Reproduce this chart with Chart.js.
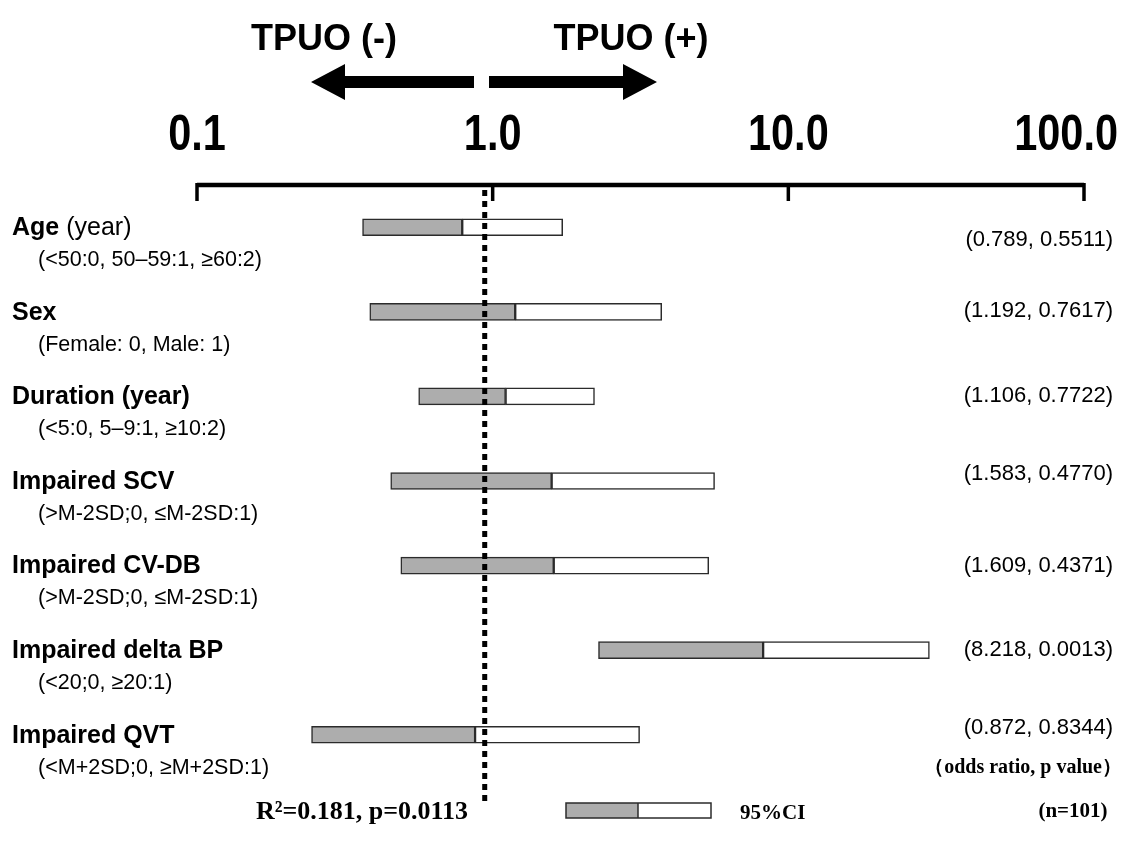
<!DOCTYPE html>
<html lang="en">
<head>
  <meta charset="UTF-8">
  <title>TPUO odds ratios</title>
  <script src="https://cdn.jsdelivr.net/npm/chart.js"></script>
  <style>
    body { margin: 0; background: #fff; }
  </style>
</head>
<body>
<canvas id="chart" width="1133" height="847"></canvas>

<script>
// data
const factorNames = ['Age', 'Sex', 'Duration (year)', 'Impaired SCV', 'Impaired CV-DB', 'Impaired delta BP', 'Impaired QVT'];
const factorUnits = [' (year)', '', '', '', '', '', ''];
const codings = [
  '(<50:0, 50\u201359:1, \u226560:2)',
  '(Female: 0, Male: 1)',
  '(<5:0, 5\u20139:1, \u226510:2)',
  '(>M-2SD;0, \u2264M-2SD:1)',
  '(>M-2SD;0, \u2264M-2SD:1)',
  '(<20;0, \u226520:1)',
  '(<M+2SD;0, \u2265M+2SD:1)'
];
const oddsRatios = [0.789, 1.192, 1.106, 1.583, 1.609, 8.218, 0.872];
const pValues = [0.5511, 0.7617, 0.7722, 0.4770, 0.4371, 0.0013, 0.8344];
const ciLow = [0.363, 0.384, 0.562, 0.452, 0.489, 2.28, 0.244];
const ciHigh = [1.725, 3.73, 2.21, 5.63, 5.38, 30.0, 3.14];
const tickValues = [0.1, 1, 10, 100];
const tickLabels = ['0.1', '1.0', '10.0', '100.0'];
const refLine = 0.94; // dotted line sits a bit left of 1.0 in the original

// small vertical nudges for the right-hand value column
const valueNudge = [13, -1, 0, -7, 0, 0, -7];

const GRAY = '#adadad';
const EDGE = '#2b2b2b';
const SANS = "'Liberation Sans', Arial, Helvetica, sans-serif";
const SERIF = "'Liberation Serif', 'Times New Roman', serif";

function arrow(ctx, x0, x1, y, dir) {
  // x0 = shaft start, x1 = tip
  const headLen = 34, headHalf = 18, shaftHalf = 6;
  const hb = x1 - dir * headLen;
  ctx.beginPath();
  ctx.moveTo(x0, y - shaftHalf);
  ctx.lineTo(hb, y - shaftHalf);
  ctx.lineTo(hb, y - headHalf);
  ctx.lineTo(x1, y);
  ctx.lineTo(hb, y + headHalf);
  ctx.lineTo(hb, y + shaftHalf);
  ctx.lineTo(x0, y + shaftHalf);
  ctx.closePath();
  ctx.fill();
}

const decorations = {
  id: 'decorations',
  afterDraw(chart) {
    const ctx = chart.ctx;
    const xs = chart.scales.x;
    const ys = chart.scales.y;
    const px = v => xs.getPixelForValue(v);
    ctx.save();
    ctx.fillStyle = '#000';
    ctx.strokeStyle = '#000';

    // header
    ctx.font = 'bold 36px ' + SANS;
    ctx.textAlign = 'center';
    ctx.textBaseline = 'alphabetic';
    ctx.fillText('TPUO (-)', 324, 50);
    ctx.fillText('TPUO (+)', 631, 50);
    arrow(ctx, 474, 311, 82, -1);
    arrow(ctx, 489, 657, 82, 1);

    // axis line with downward ticks
    const axisY = 185;
    ctx.lineWidth = 4.5;
    ctx.beginPath();
    ctx.moveTo(px(0.1), axisY);
    ctx.lineTo(px(100), axisY);
    ctx.stroke();
    ctx.lineWidth = 3.5;
    tickValues.forEach(v => {
      ctx.beginPath();
      ctx.moveTo(px(v), axisY - 2);
      ctx.lineTo(px(v), 201);
      ctx.stroke();
    });

    // tick labels (condensed bold)
    ctx.font = 'bold 50px ' + SANS;
    ctx.textAlign = 'center';
    tickLabels.forEach((t, i) => {
      const sx = 0.83;
      let cx = px(tickValues[i]);
      const w = ctx.measureText(t).width * sx;
      if (cx + w / 2 > 1118) cx = 1118 - w / 2;
      ctx.save();
      ctx.translate(cx, 150);
      ctx.scale(sx, 1);
      ctx.fillText(t, 0, 0);
      ctx.restore();
    });

    // row labels and values
    factorNames.forEach((name, i) => {
      const cy = ys.getPixelForValue(i);
      ctx.textBaseline = 'middle';
      ctx.textAlign = 'left';
      ctx.font = 'bold 25px ' + SANS;
      ctx.fillText(name, 12, cy + 1);
      if (factorUnits[i]) {
        const w = ctx.measureText(name).width;
        ctx.font = '25px ' + SANS;
        ctx.fillText(factorUnits[i], 12 + w, cy + 1);
      }
      ctx.font = '21.5px ' + SANS;
      ctx.fillText(codings[i], 38, cy + 33);
      ctx.textAlign = 'right';
      ctx.font = '22px ' + SANS;
      ctx.fillText('(' + oddsRatios[i].toFixed(3) + ', ' + pValues[i].toFixed(4) + ')', 1113, cy + valueNudge[i]);
    });

    // dotted reference line
    ctx.lineWidth = 5;
    ctx.setLineDash([6, 5]);
    ctx.beginPath();
    ctx.moveTo(px(refLine), 190);
    ctx.lineTo(px(refLine), 802);
    ctx.stroke();
    ctx.setLineDash([]);

    // legend key
    ctx.lineWidth = 1.5;
    ctx.strokeStyle = EDGE;
    ctx.fillStyle = GRAY;
    ctx.fillRect(566, 803, 72, 15);
    ctx.fillStyle = '#fff';
    ctx.fillRect(638, 803, 73, 15);
    ctx.strokeRect(566, 803, 145, 15);
    ctx.beginPath();
    ctx.moveTo(638, 803);
    ctx.lineTo(638, 818);
    ctx.stroke();

    // footer texts
    ctx.fillStyle = '#000';
    ctx.textBaseline = 'alphabetic';
    ctx.textAlign = 'left';
    ctx.font = 'bold 21px ' + SERIF;
    ctx.fillText('95%CI', 740, 819);
    ctx.textAlign = 'center';
    ctx.fillText('(n=101)', 1073, 817);
    ctx.textAlign = 'right';
    ctx.font = 'bold 20px ' + SERIF;
    ctx.fillText('\uFF08odds ratio, p value\uFF09', 1122, 773);
    ctx.textAlign = 'center';
    ctx.font = 'bold 26px ' + SERIF;
    ctx.fillText('R\u00B2=0.181, p=0.0113', 362, 819);

    ctx.restore();
  }
};

new Chart(document.getElementById('chart'), {
  type: 'bar',
  data: {
    labels: factorNames,
    datasets: [
      {
        label: 'CI low to OR',
        data: ciLow.map((lo, i) => [lo, oddsRatios[i]]),
        backgroundColor: GRAY,
        borderColor: EDGE,
        borderWidth: 1.5,
        borderSkipped: false,
        grouped: false,
        barThickness: 17
      },
      {
        label: 'OR to CI high',
        data: ciHigh.map((hi, i) => [oddsRatios[i], hi]),
        backgroundColor: '#ffffff',
        borderColor: EDGE,
        borderWidth: 1.5,
        borderSkipped: false,
        grouped: false,
        barThickness: 17
      }
    ]
  },
  options: {
    indexAxis: 'y',
    responsive: false,
    animation: false,
    devicePixelRatio: 1,
    layout: { padding: { left: 197, right: 49, top: 185, bottom: 70 } },
    scales: {
      x: { type: 'logarithmic', min: 0.1, max: 100, display: false },
      y: { type: 'category', display: false, offset: true }
    },
    plugins: {
      legend: { display: false },
      tooltip: { enabled: false }
    }
  },
  plugins: [decorations]
});
</script>
</body>
</html>
